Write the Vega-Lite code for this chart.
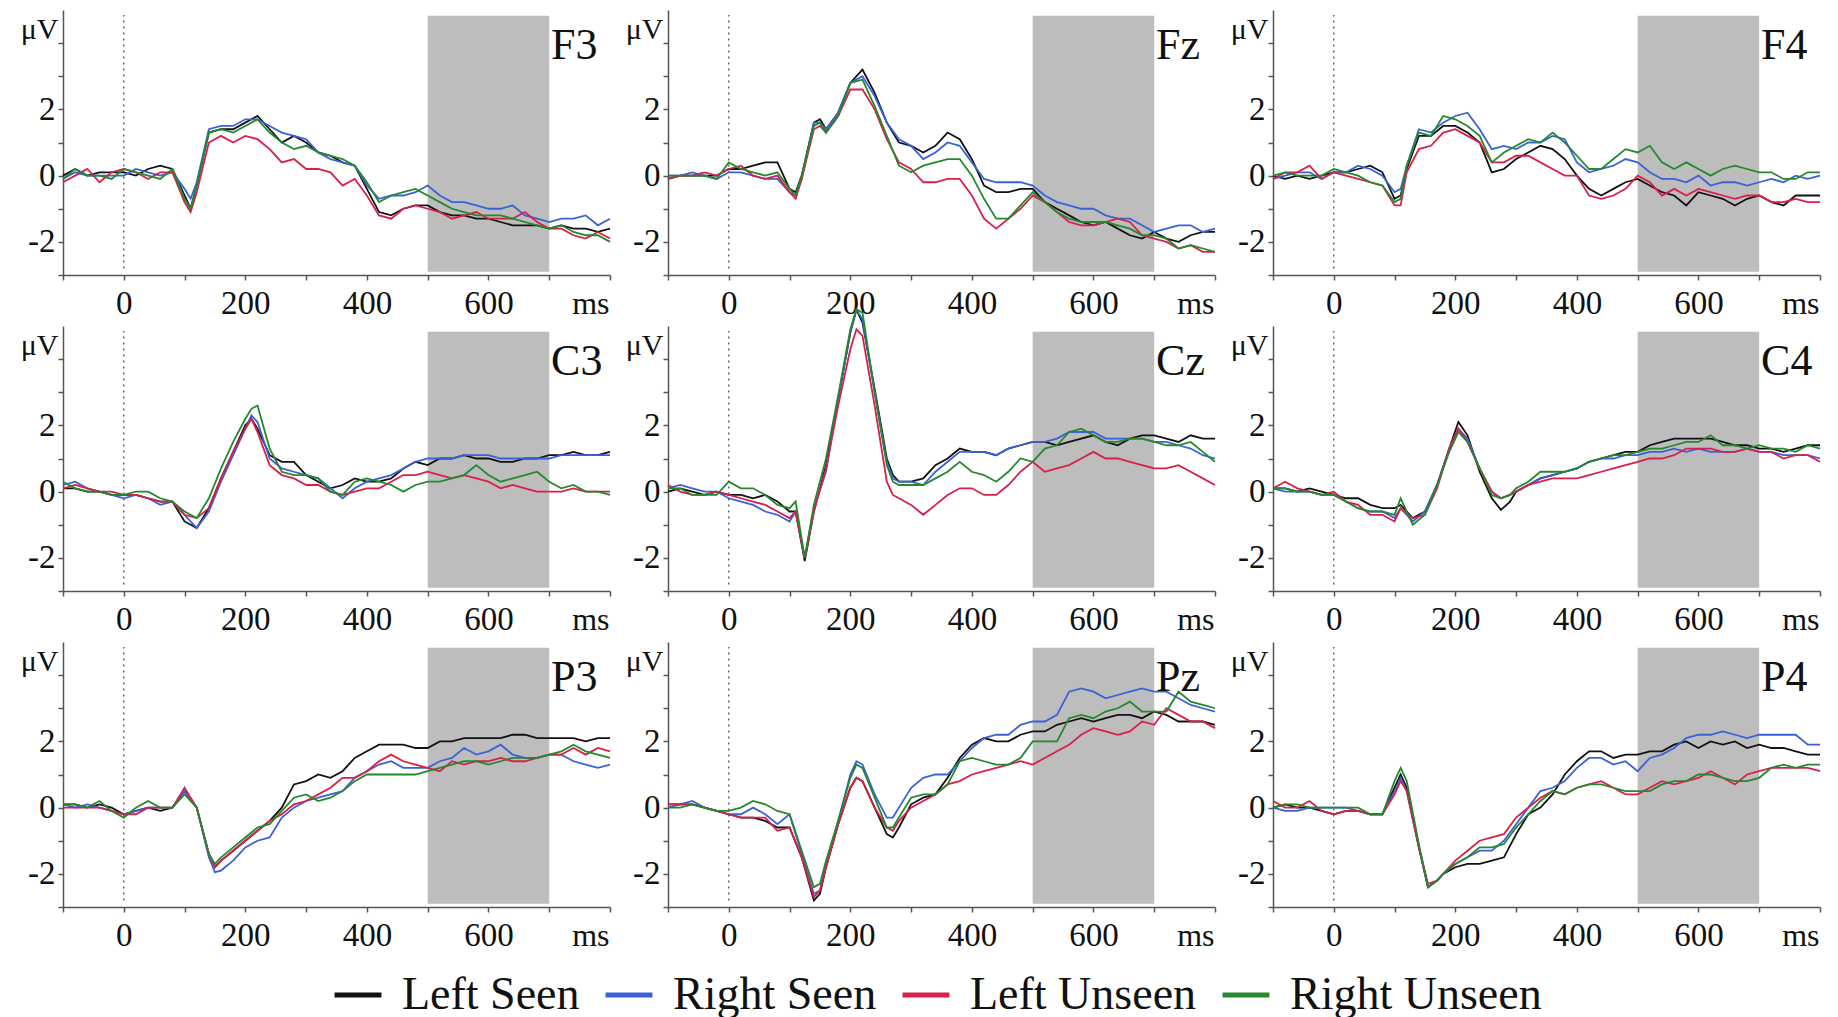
{
"$schema": "https://vega.github.io/schema/vega-lite/v6.json",
"autosize": {"type": "pad"},
"padding": {"left": 20, "top": 10, "right": 5, "bottom": 0},
"background": "white",
"config": {"view": {"stroke": null}, "font": "Liberation Serif", "header": {"labels": false, "title": null, "labelFontSize": 0, "labelPadding": 0, "titlePadding": 0}},
"data": {"values": [
{"c":"F3","t":-100,"LS":0,"RS":-0.1,"LU":-0.2,"RU":-0.1},
{"c":"F3","t":-80,"LS":0.2,"RS":0.1,"LU":0,"RU":0.2},
{"c":"F3","t":-60,"LS":0,"RS":0,"LU":0.2,"RU":0},
{"c":"F3","t":-40,"LS":0.1,"RS":0,"LU":-0.2,"RU":0},
{"c":"F3","t":-20,"LS":0.1,"RS":0,"LU":0.1,"RU":-0.1},
{"c":"F3","t":0,"LS":0.1,"RS":0,"LU":0.2,"RU":0.2},
{"c":"F3","t":20,"LS":0,"RS":0.2,"LU":0.1,"RU":0.1},
{"c":"F3","t":40,"LS":0.2,"RS":0.1,"LU":-0.1,"RU":0},
{"c":"F3","t":60,"LS":0.3,"RS":0,"LU":0.1,"RU":-0.1},
{"c":"F3","t":80,"LS":0.2,"RS":0.1,"LU":0.1,"RU":0.2},
{"c":"F3","t":100,"LS":-0.6,"RS":-0.4,"LU":-0.8,"RU":-0.7},
{"c":"F3","t":110,"LS":-1,"RS":-0.7,"LU":-1.1,"RU":-1},
{"c":"F3","t":120,"LS":-0.3,"RS":-0.2,"LU":-0.5,"RU":-0.3},
{"c":"F3","t":140,"LS":1.3,"RS":1.4,"LU":1,"RU":1.3},
{"c":"F3","t":160,"LS":1.4,"RS":1.5,"LU":1.2,"RU":1.4},
{"c":"F3","t":180,"LS":1.4,"RS":1.5,"LU":1,"RU":1.3},
{"c":"F3","t":200,"LS":1.6,"RS":1.7,"LU":1.2,"RU":1.5},
{"c":"F3","t":220,"LS":1.8,"RS":1.7,"LU":1.1,"RU":1.7},
{"c":"F3","t":240,"LS":1.4,"RS":1.5,"LU":0.8,"RU":1.3},
{"c":"F3","t":260,"LS":1,"RS":1.3,"LU":0.4,"RU":1},
{"c":"F3","t":280,"LS":1.2,"RS":1.2,"LU":0.5,"RU":0.8},
{"c":"F3","t":300,"LS":1,"RS":1.1,"LU":0.2,"RU":0.9},
{"c":"F3","t":320,"LS":0.7,"RS":0.7,"LU":0.2,"RU":0.7},
{"c":"F3","t":340,"LS":0.6,"RS":0.5,"LU":0.1,"RU":0.6},
{"c":"F3","t":360,"LS":0.4,"RS":0.4,"LU":-0.3,"RU":0.5},
{"c":"F3","t":380,"LS":0.3,"RS":0.3,"LU":-0.1,"RU":0.3},
{"c":"F3","t":400,"LS":-0.4,"RS":-0.3,"LU":-0.6,"RU":-0.2},
{"c":"F3","t":420,"LS":-1.1,"RS":-0.7,"LU":-1.2,"RU":-0.8},
{"c":"F3","t":440,"LS":-1.2,"RS":-0.6,"LU":-1.3,"RU":-0.6},
{"c":"F3","t":460,"LS":-1,"RS":-0.6,"LU":-1,"RU":-0.5},
{"c":"F3","t":480,"LS":-0.9,"RS":-0.5,"LU":-0.9,"RU":-0.4},
{"c":"F3","t":500,"LS":-0.9,"RS":-0.3,"LU":-1,"RU":-0.6},
{"c":"F3","t":520,"LS":-1.1,"RS":-0.6,"LU":-1.1,"RU":-0.8},
{"c":"F3","t":540,"LS":-1.2,"RS":-0.8,"LU":-1.3,"RU":-1},
{"c":"F3","t":560,"LS":-1.2,"RS":-0.8,"LU":-1.2,"RU":-1.1},
{"c":"F3","t":580,"LS":-1.3,"RS":-0.9,"LU":-1.1,"RU":-1.2},
{"c":"F3","t":600,"LS":-1.3,"RS":-1,"LU":-1.3,"RU":-1.2},
{"c":"F3","t":620,"LS":-1.4,"RS":-1,"LU":-1.3,"RU":-1.2},
{"c":"F3","t":640,"LS":-1.5,"RS":-0.9,"LU":-1.3,"RU":-1.3},
{"c":"F3","t":660,"LS":-1.5,"RS":-1.2,"LU":-1.1,"RU":-1.4},
{"c":"F3","t":680,"LS":-1.5,"RS":-1.3,"LU":-1.4,"RU":-1.5},
{"c":"F3","t":700,"LS":-1.6,"RS":-1.4,"LU":-1.6,"RU":-1.6},
{"c":"F3","t":720,"LS":-1.5,"RS":-1.3,"LU":-1.6,"RU":-1.5},
{"c":"F3","t":740,"LS":-1.6,"RS":-1.3,"LU":-1.8,"RU":-1.7},
{"c":"F3","t":760,"LS":-1.6,"RS":-1.2,"LU":-1.9,"RU":-1.8},
{"c":"F3","t":780,"LS":-1.7,"RS":-1.5,"LU":-1.7,"RU":-1.8},
{"c":"F3","t":800,"LS":-1.6,"RS":-1.3,"LU":-1.9,"RU":-2},
{"c":"Fz","t":-100,"LS":-0.1,"RS":0,"LU":-0.1,"RU":0},
{"c":"Fz","t":-80,"LS":0,"RS":0,"LU":0,"RU":0},
{"c":"Fz","t":-60,"LS":0,"RS":0.1,"LU":0,"RU":0},
{"c":"Fz","t":-40,"LS":0,"RS":0,"LU":0.1,"RU":0},
{"c":"Fz","t":-20,"LS":0,"RS":-0.1,"LU":0,"RU":-0.1},
{"c":"Fz","t":0,"LS":0.2,"RS":0.1,"LU":0.2,"RU":0.4},
{"c":"Fz","t":20,"LS":0.2,"RS":0.1,"LU":0.3,"RU":0.2},
{"c":"Fz","t":40,"LS":0.3,"RS":0,"LU":0,"RU":0.1},
{"c":"Fz","t":60,"LS":0.4,"RS":-0.1,"LU":-0.1,"RU":0},
{"c":"Fz","t":80,"LS":0.4,"RS":-0.1,"LU":0,"RU":0.1},
{"c":"Fz","t":100,"LS":-0.4,"RS":-0.5,"LU":-0.5,"RU":-0.4},
{"c":"Fz","t":110,"LS":-0.5,"RS":-0.6,"LU":-0.7,"RU":-0.6},
{"c":"Fz","t":120,"LS":0,"RS":-0.1,"LU":-0.1,"RU":0},
{"c":"Fz","t":140,"LS":1.6,"RS":1.6,"LU":1.4,"RU":1.5},
{"c":"Fz","t":150,"LS":1.7,"RS":1.6,"LU":1.5,"RU":1.6},
{"c":"Fz","t":160,"LS":1.4,"RS":1.4,"LU":1.3,"RU":1.3},
{"c":"Fz","t":180,"LS":1.9,"RS":1.9,"LU":1.8,"RU":1.8},
{"c":"Fz","t":200,"LS":2.8,"RS":2.8,"LU":2.6,"RU":2.8},
{"c":"Fz","t":220,"LS":3.2,"RS":3,"LU":2.6,"RU":2.9},
{"c":"Fz","t":240,"LS":2.5,"RS":2.4,"LU":2,"RU":2.1},
{"c":"Fz","t":260,"LS":1.6,"RS":1.6,"LU":1.1,"RU":1.2},
{"c":"Fz","t":280,"LS":1,"RS":1.1,"LU":0.4,"RU":0.3},
{"c":"Fz","t":300,"LS":0.9,"RS":0.9,"LU":0.2,"RU":0.1},
{"c":"Fz","t":320,"LS":0.7,"RS":0.5,"LU":-0.2,"RU":0.3},
{"c":"Fz","t":340,"LS":0.9,"RS":0.7,"LU":-0.2,"RU":0.4},
{"c":"Fz","t":360,"LS":1.3,"RS":1,"LU":-0.1,"RU":0.5},
{"c":"Fz","t":380,"LS":1.1,"RS":0.9,"LU":-0.1,"RU":0.5},
{"c":"Fz","t":400,"LS":0.5,"RS":0.4,"LU":-0.6,"RU":0},
{"c":"Fz","t":420,"LS":-0.3,"RS":-0.1,"LU":-1.3,"RU":-0.7},
{"c":"Fz","t":440,"LS":-0.5,"RS":-0.2,"LU":-1.6,"RU":-1.3},
{"c":"Fz","t":460,"LS":-0.5,"RS":-0.2,"LU":-1.3,"RU":-1.3},
{"c":"Fz","t":480,"LS":-0.4,"RS":-0.2,"LU":-1,"RU":-0.9},
{"c":"Fz","t":500,"LS":-0.4,"RS":-0.3,"LU":-0.6,"RU":-0.5},
{"c":"Fz","t":520,"LS":-0.8,"RS":-0.6,"LU":-0.8,"RU":-0.8},
{"c":"Fz","t":540,"LS":-1,"RS":-0.8,"LU":-1.1,"RU":-1.1},
{"c":"Fz","t":560,"LS":-1.2,"RS":-0.9,"LU":-1.4,"RU":-1.3},
{"c":"Fz","t":580,"LS":-1.4,"RS":-1,"LU":-1.5,"RU":-1.4},
{"c":"Fz","t":600,"LS":-1.5,"RS":-1,"LU":-1.5,"RU":-1.4},
{"c":"Fz","t":620,"LS":-1.4,"RS":-1.2,"LU":-1.4,"RU":-1.4},
{"c":"Fz","t":640,"LS":-1.6,"RS":-1.3,"LU":-1.3,"RU":-1.5},
{"c":"Fz","t":660,"LS":-1.8,"RS":-1.3,"LU":-1.4,"RU":-1.6},
{"c":"Fz","t":680,"LS":-1.9,"RS":-1.5,"LU":-1.8,"RU":-1.8},
{"c":"Fz","t":700,"LS":-1.7,"RS":-1.7,"LU":-1.9,"RU":-1.8},
{"c":"Fz","t":720,"LS":-1.9,"RS":-1.6,"LU":-2,"RU":-1.9},
{"c":"Fz","t":740,"LS":-2,"RS":-1.5,"LU":-2.2,"RU":-2.2},
{"c":"Fz","t":760,"LS":-1.8,"RS":-1.5,"LU":-2.1,"RU":-2.1},
{"c":"Fz","t":780,"LS":-1.7,"RS":-1.7,"LU":-2.3,"RU":-2.2},
{"c":"Fz","t":800,"LS":-1.7,"RS":-1.6,"LU":-2.3,"RU":-2.3},
{"c":"F4","t":-100,"LS":0,"RS":-0.1,"LU":-0.1,"RU":0},
{"c":"F4","t":-80,"LS":-0.1,"RS":0,"LU":0.1,"RU":0.1},
{"c":"F4","t":-60,"LS":0,"RS":0.1,"LU":0.1,"RU":0},
{"c":"F4","t":-40,"LS":-0.1,"RS":0.1,"LU":0.3,"RU":0},
{"c":"F4","t":-20,"LS":0,"RS":-0.1,"LU":-0.1,"RU":0},
{"c":"F4","t":0,"LS":0.1,"RS":0.1,"LU":0.1,"RU":0.2},
{"c":"F4","t":20,"LS":0.1,"RS":0.1,"LU":0,"RU":0.1},
{"c":"F4","t":40,"LS":0.2,"RS":0.3,"LU":-0.1,"RU":0},
{"c":"F4","t":60,"LS":0.3,"RS":0.2,"LU":-0.2,"RU":-0.2},
{"c":"F4","t":80,"LS":0.1,"RS":0,"LU":-0.3,"RU":-0.3},
{"c":"F4","t":100,"LS":-0.7,"RS":-0.5,"LU":-0.9,"RU":-0.8},
{"c":"F4","t":110,"LS":-0.6,"RS":-0.4,"LU":-0.9,"RU":-0.7},
{"c":"F4","t":120,"LS":0.2,"RS":0.3,"LU":0.1,"RU":0.3},
{"c":"F4","t":140,"LS":1.2,"RS":1.4,"LU":0.8,"RU":1.3},
{"c":"F4","t":160,"LS":1.2,"RS":1.3,"LU":0.9,"RU":1.2},
{"c":"F4","t":180,"LS":1.5,"RS":1.6,"LU":1.3,"RU":1.8},
{"c":"F4","t":200,"LS":1.5,"RS":1.8,"LU":1.4,"RU":1.7},
{"c":"F4","t":220,"LS":1.3,"RS":1.9,"LU":1.2,"RU":1.5},
{"c":"F4","t":240,"LS":1,"RS":1.4,"LU":1,"RU":1.2},
{"c":"F4","t":260,"LS":0.1,"RS":0.8,"LU":0.4,"RU":0.4},
{"c":"F4","t":280,"LS":0.2,"RS":0.9,"LU":0.4,"RU":0.7},
{"c":"F4","t":300,"LS":0.5,"RS":0.8,"LU":0.6,"RU":0.9},
{"c":"F4","t":320,"LS":0.7,"RS":1,"LU":0.6,"RU":1.1},
{"c":"F4","t":340,"LS":0.9,"RS":1,"LU":0.4,"RU":1},
{"c":"F4","t":360,"LS":0.8,"RS":1.2,"LU":0.2,"RU":1.3},
{"c":"F4","t":380,"LS":0.5,"RS":1.1,"LU":0,"RU":1},
{"c":"F4","t":400,"LS":0,"RS":0.4,"LU":0,"RU":0.6},
{"c":"F4","t":420,"LS":-0.4,"RS":0.1,"LU":-0.6,"RU":0.2},
{"c":"F4","t":440,"LS":-0.6,"RS":0.2,"LU":-0.7,"RU":0.2},
{"c":"F4","t":460,"LS":-0.4,"RS":0.3,"LU":-0.6,"RU":0.5},
{"c":"F4","t":480,"LS":-0.2,"RS":0.5,"LU":-0.4,"RU":0.8},
{"c":"F4","t":500,"LS":-0.1,"RS":0.4,"LU":0,"RU":0.7},
{"c":"F4","t":520,"LS":-0.3,"RS":0.1,"LU":-0.2,"RU":0.9},
{"c":"F4","t":540,"LS":-0.5,"RS":-0.1,"LU":-0.6,"RU":0.4},
{"c":"F4","t":560,"LS":-0.6,"RS":-0.1,"LU":-0.4,"RU":0.2},
{"c":"F4","t":580,"LS":-0.9,"RS":-0.2,"LU":-0.6,"RU":0.4},
{"c":"F4","t":600,"LS":-0.5,"RS":0,"LU":-0.4,"RU":0.2},
{"c":"F4","t":620,"LS":-0.6,"RS":-0.3,"LU":-0.5,"RU":0},
{"c":"F4","t":640,"LS":-0.7,"RS":-0.2,"LU":-0.6,"RU":0.2},
{"c":"F4","t":660,"LS":-0.9,"RS":-0.2,"LU":-0.7,"RU":0.3},
{"c":"F4","t":680,"LS":-0.7,"RS":-0.3,"LU":-0.6,"RU":0.2},
{"c":"F4","t":700,"LS":-0.6,"RS":-0.2,"LU":-0.6,"RU":0.1},
{"c":"F4","t":720,"LS":-0.8,"RS":-0.1,"LU":-0.8,"RU":0.1},
{"c":"F4","t":740,"LS":-0.9,"RS":-0.2,"LU":-0.8,"RU":-0.1},
{"c":"F4","t":760,"LS":-0.6,"RS":0,"LU":-0.7,"RU":-0.1},
{"c":"F4","t":780,"LS":-0.6,"RS":-0.1,"LU":-0.8,"RU":0.1},
{"c":"F4","t":800,"LS":-0.6,"RS":0,"LU":-0.8,"RU":0.1},
{"c":"C3","t":-100,"LS":0.1,"RS":0.2,"LU":0.1,"RU":0.3},
{"c":"C3","t":-80,"LS":0.1,"RS":0.3,"LU":0.2,"RU":0.1},
{"c":"C3","t":-60,"LS":0,"RS":0.1,"LU":0.1,"RU":0},
{"c":"C3","t":-40,"LS":0,"RS":0,"LU":0,"RU":0},
{"c":"C3","t":-20,"LS":-0.1,"RS":-0.1,"LU":0,"RU":-0.1},
{"c":"C3","t":0,"LS":-0.1,"RS":-0.2,"LU":-0.1,"RU":-0.1},
{"c":"C3","t":20,"LS":-0.1,"RS":-0.1,"LU":-0.1,"RU":0},
{"c":"C3","t":40,"LS":-0.2,"RS":-0.2,"LU":-0.2,"RU":0},
{"c":"C3","t":60,"LS":-0.3,"RS":-0.4,"LU":-0.3,"RU":-0.2},
{"c":"C3","t":80,"LS":-0.3,"RS":-0.3,"LU":-0.3,"RU":-0.3},
{"c":"C3","t":100,"LS":-0.9,"RS":-0.7,"LU":-0.7,"RU":-0.6},
{"c":"C3","t":120,"LS":-1.1,"RS":-1.1,"LU":-0.8,"RU":-0.8},
{"c":"C3","t":140,"LS":-0.5,"RS":-0.6,"LU":-0.5,"RU":-0.2},
{"c":"C3","t":160,"LS":0.4,"RS":0.3,"LU":0.4,"RU":0.7},
{"c":"C3","t":180,"LS":1.2,"RS":1.1,"LU":1.2,"RU":1.5},
{"c":"C3","t":200,"LS":2,"RS":1.9,"LU":1.9,"RU":2.2},
{"c":"C3","t":210,"LS":2.2,"RS":2.3,"LU":2.2,"RU":2.5},
{"c":"C3","t":220,"LS":1.9,"RS":2.1,"LU":1.8,"RU":2.6},
{"c":"C3","t":240,"LS":1.1,"RS":1,"LU":0.8,"RU":1.3},
{"c":"C3","t":260,"LS":0.9,"RS":0.7,"LU":0.5,"RU":0.6},
{"c":"C3","t":280,"LS":0.9,"RS":0.6,"LU":0.4,"RU":0.5},
{"c":"C3","t":300,"LS":0.5,"RS":0.5,"LU":0.2,"RU":0.5},
{"c":"C3","t":320,"LS":0.3,"RS":0.4,"LU":0.2,"RU":0.4},
{"c":"C3","t":340,"LS":0.1,"RS":0.1,"LU":0,"RU":0},
{"c":"C3","t":360,"LS":0.2,"RS":-0.2,"LU":-0.1,"RU":-0.1},
{"c":"C3","t":380,"LS":0.4,"RS":0.1,"LU":0,"RU":0.3},
{"c":"C3","t":400,"LS":0.3,"RS":0.3,"LU":0.1,"RU":0.4},
{"c":"C3","t":420,"LS":0.3,"RS":0.4,"LU":0.1,"RU":0.3},
{"c":"C3","t":440,"LS":0.4,"RS":0.5,"LU":0.3,"RU":0.2},
{"c":"C3","t":460,"LS":0.7,"RS":0.7,"LU":0.5,"RU":0},
{"c":"C3","t":480,"LS":0.9,"RS":0.9,"LU":0.5,"RU":0.2},
{"c":"C3","t":500,"LS":0.8,"RS":1,"LU":0.6,"RU":0.3},
{"c":"C3","t":520,"LS":1,"RS":1,"LU":0.5,"RU":0.3},
{"c":"C3","t":540,"LS":1,"RS":1,"LU":0.4,"RU":0.4},
{"c":"C3","t":560,"LS":1.1,"RS":1.1,"LU":0.5,"RU":0.5},
{"c":"C3","t":580,"LS":1,"RS":1.1,"LU":0.4,"RU":0.8},
{"c":"C3","t":600,"LS":1,"RS":1.1,"LU":0.3,"RU":0.5},
{"c":"C3","t":620,"LS":0.9,"RS":1,"LU":0.1,"RU":0.3},
{"c":"C3","t":640,"LS":0.9,"RS":1,"LU":0.2,"RU":0.4},
{"c":"C3","t":660,"LS":1,"RS":1,"LU":0.1,"RU":0.5},
{"c":"C3","t":680,"LS":1,"RS":1,"LU":0,"RU":0.6},
{"c":"C3","t":700,"LS":1.1,"RS":1,"LU":0,"RU":0.3},
{"c":"C3","t":720,"LS":1.1,"RS":1.1,"LU":0,"RU":0.1},
{"c":"C3","t":740,"LS":1.2,"RS":1.1,"LU":0.1,"RU":0.2},
{"c":"C3","t":760,"LS":1.1,"RS":1.1,"LU":0,"RU":0},
{"c":"C3","t":780,"LS":1.1,"RS":1.1,"LU":0,"RU":0},
{"c":"C3","t":800,"LS":1.2,"RS":1.1,"LU":0,"RU":-0.1},
{"c":"Cz","t":-100,"LS":0,"RS":0.1,"LU":0.2,"RU":0.1},
{"c":"Cz","t":-80,"LS":0.1,"RS":0.2,"LU":0,"RU":0.1},
{"c":"Cz","t":-60,"LS":0,"RS":0.1,"LU":-0.1,"RU":-0.1},
{"c":"Cz","t":-40,"LS":-0.1,"RS":0,"LU":-0.1,"RU":-0.1},
{"c":"Cz","t":-20,"LS":0,"RS":0,"LU":0,"RU":-0.1},
{"c":"Cz","t":0,"LS":-0.1,"RS":-0.2,"LU":-0.1,"RU":0.3},
{"c":"Cz","t":20,"LS":-0.1,"RS":-0.3,"LU":-0.2,"RU":0.1},
{"c":"Cz","t":40,"LS":-0.2,"RS":-0.4,"LU":-0.3,"RU":0.1},
{"c":"Cz","t":60,"LS":-0.1,"RS":-0.6,"LU":-0.4,"RU":-0.1},
{"c":"Cz","t":80,"LS":-0.3,"RS":-0.7,"LU":-0.6,"RU":-0.4},
{"c":"Cz","t":100,"LS":-0.6,"RS":-0.9,"LU":-0.8,"RU":-0.5},
{"c":"Cz","t":110,"LS":-0.6,"RS":-0.6,"LU":-0.6,"RU":-0.3},
{"c":"Cz","t":125,"LS":-2.1,"RS":-2,"LU":-2,"RU":-2},
{"c":"Cz","t":140,"LS":-0.6,"RS":-0.5,"LU":-0.6,"RU":-0.4},
{"c":"Cz","t":160,"LS":0.8,"RS":0.6,"LU":0.7,"RU":1},
{"c":"Cz","t":180,"LS":2.8,"RS":2.8,"LU":2.6,"RU":2.9},
{"c":"Cz","t":200,"LS":4.8,"RS":4.8,"LU":4.3,"RU":4.9},
{"c":"Cz","t":210,"LS":5.5,"RS":5.5,"LU":4.9,"RU":5.5},
{"c":"Cz","t":220,"LS":5.1,"RS":5.2,"LU":4.7,"RU":5.4},
{"c":"Cz","t":240,"LS":3.1,"RS":3,"LU":2.6,"RU":3},
{"c":"Cz","t":260,"LS":1,"RS":0.9,"LU":0.3,"RU":0.8},
{"c":"Cz","t":270,"LS":0.5,"RS":0.4,"LU":-0.1,"RU":0.3},
{"c":"Cz","t":280,"LS":0.3,"RS":0.3,"LU":-0.2,"RU":0.2},
{"c":"Cz","t":300,"LS":0.3,"RS":0.3,"LU":-0.4,"RU":0.2},
{"c":"Cz","t":320,"LS":0.4,"RS":0.2,"LU":-0.7,"RU":0.2},
{"c":"Cz","t":340,"LS":0.8,"RS":0.6,"LU":-0.4,"RU":0.4},
{"c":"Cz","t":360,"LS":1,"RS":0.9,"LU":-0.1,"RU":0.6},
{"c":"Cz","t":380,"LS":1.3,"RS":1.2,"LU":0.1,"RU":0.9},
{"c":"Cz","t":400,"LS":1.2,"RS":1.2,"LU":0.1,"RU":0.6},
{"c":"Cz","t":420,"LS":1.2,"RS":1.2,"LU":-0.1,"RU":0.5},
{"c":"Cz","t":440,"LS":1.1,"RS":1.1,"LU":-0.1,"RU":0.3},
{"c":"Cz","t":460,"LS":1.3,"RS":1.3,"LU":0.2,"RU":0.6},
{"c":"Cz","t":480,"LS":1.4,"RS":1.4,"LU":0.6,"RU":1},
{"c":"Cz","t":500,"LS":1.5,"RS":1.5,"LU":0.9,"RU":0.9},
{"c":"Cz","t":520,"LS":1.5,"RS":1.5,"LU":0.6,"RU":1.3},
{"c":"Cz","t":540,"LS":1.4,"RS":1.6,"LU":0.7,"RU":1.4},
{"c":"Cz","t":560,"LS":1.5,"RS":1.8,"LU":0.8,"RU":1.8},
{"c":"Cz","t":580,"LS":1.6,"RS":1.8,"LU":1,"RU":1.9},
{"c":"Cz","t":600,"LS":1.7,"RS":1.8,"LU":1.2,"RU":1.7},
{"c":"Cz","t":620,"LS":1.5,"RS":1.6,"LU":1,"RU":1.5},
{"c":"Cz","t":640,"LS":1.4,"RS":1.6,"LU":1,"RU":1.5},
{"c":"Cz","t":660,"LS":1.6,"RS":1.6,"LU":0.9,"RU":1.6},
{"c":"Cz","t":680,"LS":1.7,"RS":1.6,"LU":0.8,"RU":1.6},
{"c":"Cz","t":700,"LS":1.7,"RS":1.5,"LU":0.7,"RU":1.5},
{"c":"Cz","t":720,"LS":1.6,"RS":1.5,"LU":0.7,"RU":1.4},
{"c":"Cz","t":740,"LS":1.5,"RS":1.4,"LU":0.8,"RU":1.4},
{"c":"Cz","t":760,"LS":1.7,"RS":1.3,"LU":0.6,"RU":1.5},
{"c":"Cz","t":780,"LS":1.6,"RS":1.1,"LU":0.4,"RU":1.2},
{"c":"Cz","t":800,"LS":1.6,"RS":1,"LU":0.2,"RU":0.9},
{"c":"C4","t":-100,"LS":0.1,"RS":0.1,"LU":0.1,"RU":0.1},
{"c":"C4","t":-80,"LS":0.1,"RS":0,"LU":0.3,"RU":0.1},
{"c":"C4","t":-60,"LS":0,"RS":0,"LU":0.1,"RU":0},
{"c":"C4","t":-40,"LS":0.1,"RS":0,"LU":0,"RU":0},
{"c":"C4","t":-20,"LS":0,"RS":-0.1,"LU":-0.1,"RU":-0.1},
{"c":"C4","t":0,"LS":-0.1,"RS":-0.1,"LU":0,"RU":-0.1},
{"c":"C4","t":20,"LS":-0.2,"RS":-0.3,"LU":-0.3,"RU":-0.3},
{"c":"C4","t":40,"LS":-0.2,"RS":-0.5,"LU":-0.4,"RU":-0.5},
{"c":"C4","t":60,"LS":-0.4,"RS":-0.6,"LU":-0.7,"RU":-0.6},
{"c":"C4","t":80,"LS":-0.5,"RS":-0.6,"LU":-0.7,"RU":-0.6},
{"c":"C4","t":100,"LS":-0.5,"RS":-0.8,"LU":-0.9,"RU":-0.7},
{"c":"C4","t":110,"LS":-0.4,"RS":-0.5,"LU":-0.5,"RU":-0.2},
{"c":"C4","t":130,"LS":-0.8,"RS":-0.9,"LU":-0.8,"RU":-1},
{"c":"C4","t":150,"LS":-0.6,"RS":-0.6,"LU":-0.7,"RU":-0.7},
{"c":"C4","t":170,"LS":0.2,"RS":0.2,"LU":0.1,"RU":0.2},
{"c":"C4","t":190,"LS":1.3,"RS":1.3,"LU":1.3,"RU":1.2},
{"c":"C4","t":205,"LS":2.1,"RS":1.9,"LU":1.9,"RU":1.8},
{"c":"C4","t":220,"LS":1.7,"RS":1.6,"LU":1.5,"RU":1.5},
{"c":"C4","t":240,"LS":0.6,"RS":0.7,"LU":0.7,"RU":0.7},
{"c":"C4","t":260,"LS":-0.2,"RS":0,"LU":0,"RU":-0.1},
{"c":"C4","t":275,"LS":-0.55,"RS":-0.2,"LU":-0.2,"RU":-0.2},
{"c":"C4","t":290,"LS":-0.3,"RS":-0.1,"LU":-0.1,"RU":-0.1},
{"c":"C4","t":300,"LS":0,"RS":0,"LU":0,"RU":0.1},
{"c":"C4","t":320,"LS":0.2,"RS":0.2,"LU":0.2,"RU":0.3},
{"c":"C4","t":340,"LS":0.4,"RS":0.4,"LU":0.3,"RU":0.6},
{"c":"C4","t":360,"LS":0.5,"RS":0.5,"LU":0.4,"RU":0.6},
{"c":"C4","t":380,"LS":0.6,"RS":0.6,"LU":0.4,"RU":0.6},
{"c":"C4","t":400,"LS":0.7,"RS":0.7,"LU":0.4,"RU":0.7},
{"c":"C4","t":420,"LS":0.9,"RS":0.9,"LU":0.5,"RU":0.9},
{"c":"C4","t":440,"LS":1,"RS":1,"LU":0.6,"RU":1},
{"c":"C4","t":460,"LS":1.1,"RS":1,"LU":0.7,"RU":1.1},
{"c":"C4","t":480,"LS":1.2,"RS":1.1,"LU":0.8,"RU":1.1},
{"c":"C4","t":500,"LS":1.2,"RS":1.1,"LU":0.9,"RU":1.2},
{"c":"C4","t":520,"LS":1.4,"RS":1.2,"LU":1,"RU":1.3},
{"c":"C4","t":540,"LS":1.5,"RS":1.2,"LU":1,"RU":1.3},
{"c":"C4","t":560,"LS":1.6,"RS":1.3,"LU":1.1,"RU":1.4},
{"c":"C4","t":580,"LS":1.6,"RS":1.2,"LU":1.3,"RU":1.5},
{"c":"C4","t":600,"LS":1.6,"RS":1.3,"LU":1.3,"RU":1.5},
{"c":"C4","t":620,"LS":1.6,"RS":1.2,"LU":1.3,"RU":1.7},
{"c":"C4","t":640,"LS":1.5,"RS":1.2,"LU":1.2,"RU":1.4},
{"c":"C4","t":660,"LS":1.4,"RS":1.2,"LU":1.2,"RU":1.4},
{"c":"C4","t":680,"LS":1.4,"RS":1.3,"LU":1.3,"RU":1.3},
{"c":"C4","t":700,"LS":1.3,"RS":1.2,"LU":1.2,"RU":1.4},
{"c":"C4","t":720,"LS":1.3,"RS":1.2,"LU":1.2,"RU":1.3},
{"c":"C4","t":740,"LS":1.2,"RS":1.1,"LU":1,"RU":1.3},
{"c":"C4","t":760,"LS":1.3,"RS":1.1,"LU":1.1,"RU":1.2},
{"c":"C4","t":780,"LS":1.4,"RS":1.1,"LU":1.1,"RU":1.4},
{"c":"C4","t":800,"LS":1.4,"RS":1,"LU":0.9,"RU":1.3},
{"c":"P3","t":-100,"LS":0.1,"RS":0.1,"LU":0,"RU":0.1},
{"c":"P3","t":-80,"LS":0.1,"RS":0,"LU":0,"RU":0.1},
{"c":"P3","t":-60,"LS":0,"RS":0.1,"LU":0,"RU":0},
{"c":"P3","t":-40,"LS":0.1,"RS":0,"LU":0,"RU":0.2},
{"c":"P3","t":-20,"LS":0,"RS":-0.1,"LU":-0.1,"RU":-0.1},
{"c":"P3","t":0,"LS":-0.2,"RS":-0.2,"LU":-0.2,"RU":-0.3},
{"c":"P3","t":20,"LS":-0.1,"RS":-0.1,"LU":-0.2,"RU":0},
{"c":"P3","t":40,"LS":0,"RS":0,"LU":0,"RU":0.2},
{"c":"P3","t":60,"LS":-0.1,"RS":0,"LU":0,"RU":0},
{"c":"P3","t":80,"LS":0,"RS":0,"LU":0,"RU":0},
{"c":"P3","t":100,"LS":0.5,"RS":0.5,"LU":0.6,"RU":0.4},
{"c":"P3","t":120,"LS":0,"RS":0,"LU":0,"RU":0},
{"c":"P3","t":140,"LS":-1.4,"RS":-1.5,"LU":-1.4,"RU":-1.4},
{"c":"P3","t":150,"LS":-1.8,"RS":-1.95,"LU":-1.8,"RU":-1.7},
{"c":"P3","t":160,"LS":-1.6,"RS":-1.9,"LU":-1.6,"RU":-1.5},
{"c":"P3","t":180,"LS":-1.3,"RS":-1.6,"LU":-1.3,"RU":-1.2},
{"c":"P3","t":200,"LS":-1,"RS":-1.2,"LU":-1,"RU":-0.9},
{"c":"P3","t":220,"LS":-0.7,"RS":-1,"LU":-0.7,"RU":-0.6},
{"c":"P3","t":240,"LS":-0.4,"RS":-0.9,"LU":-0.4,"RU":-0.5},
{"c":"P3","t":260,"LS":0,"RS":-0.3,"LU":-0.2,"RU":-0.1},
{"c":"P3","t":280,"LS":0.7,"RS":0,"LU":0.1,"RU":0.3},
{"c":"P3","t":300,"LS":0.8,"RS":0.2,"LU":0.2,"RU":0.4},
{"c":"P3","t":320,"LS":1,"RS":0.3,"LU":0.4,"RU":0.2},
{"c":"P3","t":340,"LS":0.9,"RS":0.4,"LU":0.6,"RU":0.3},
{"c":"P3","t":360,"LS":1.1,"RS":0.5,"LU":0.9,"RU":0.5},
{"c":"P3","t":380,"LS":1.5,"RS":0.9,"LU":0.9,"RU":0.8},
{"c":"P3","t":400,"LS":1.7,"RS":1.1,"LU":1.1,"RU":1},
{"c":"P3","t":420,"LS":1.9,"RS":1.3,"LU":1.4,"RU":1},
{"c":"P3","t":440,"LS":1.9,"RS":1.4,"LU":1.6,"RU":1},
{"c":"P3","t":460,"LS":1.9,"RS":1.2,"LU":1.4,"RU":1},
{"c":"P3","t":480,"LS":1.8,"RS":1.2,"LU":1.3,"RU":1},
{"c":"P3","t":500,"LS":1.8,"RS":1.2,"LU":1.2,"RU":1.1},
{"c":"P3","t":520,"LS":2,"RS":1.4,"LU":1.1,"RU":1.2},
{"c":"P3","t":540,"LS":2,"RS":1.5,"LU":1.4,"RU":1.3},
{"c":"P3","t":560,"LS":2.1,"RS":1.8,"LU":1.3,"RU":1.4},
{"c":"P3","t":580,"LS":2.1,"RS":1.6,"LU":1.4,"RU":1.4},
{"c":"P3","t":600,"LS":2.1,"RS":1.7,"LU":1.4,"RU":1.3},
{"c":"P3","t":620,"LS":2.1,"RS":1.9,"LU":1.5,"RU":1.4},
{"c":"P3","t":640,"LS":2.2,"RS":1.6,"LU":1.4,"RU":1.5},
{"c":"P3","t":660,"LS":2.2,"RS":1.5,"LU":1.4,"RU":1.5},
{"c":"P3","t":680,"LS":2.1,"RS":1.5,"LU":1.5,"RU":1.5},
{"c":"P3","t":700,"LS":2.1,"RS":1.6,"LU":1.6,"RU":1.6},
{"c":"P3","t":720,"LS":2.1,"RS":1.6,"LU":1.6,"RU":1.7},
{"c":"P3","t":740,"LS":2.1,"RS":1.4,"LU":1.8,"RU":1.9},
{"c":"P3","t":760,"LS":2,"RS":1.3,"LU":1.6,"RU":1.7},
{"c":"P3","t":780,"LS":2.1,"RS":1.2,"LU":1.8,"RU":1.6},
{"c":"P3","t":800,"LS":2.1,"RS":1.3,"LU":1.7,"RU":1.5},
{"c":"Pz","t":-100,"LS":0.1,"RS":0,"LU":0.1,"RU":0},
{"c":"Pz","t":-80,"LS":0.1,"RS":0.1,"LU":0.1,"RU":0},
{"c":"Pz","t":-60,"LS":0.1,"RS":0.2,"LU":0.1,"RU":0.1},
{"c":"Pz","t":-40,"LS":0,"RS":0,"LU":0,"RU":0},
{"c":"Pz","t":-20,"LS":-0.1,"RS":-0.1,"LU":-0.1,"RU":-0.1},
{"c":"Pz","t":0,"LS":-0.2,"RS":-0.2,"LU":-0.2,"RU":-0.1},
{"c":"Pz","t":20,"LS":-0.3,"RS":-0.2,"LU":-0.3,"RU":0},
{"c":"Pz","t":40,"LS":-0.3,"RS":0,"LU":-0.3,"RU":0.2},
{"c":"Pz","t":60,"LS":-0.4,"RS":-0.2,"LU":-0.3,"RU":0.1},
{"c":"Pz","t":80,"LS":-0.6,"RS":-0.5,"LU":-0.7,"RU":-0.1},
{"c":"Pz","t":100,"LS":-0.6,"RS":-0.2,"LU":-0.6,"RU":-0.2},
{"c":"Pz","t":120,"LS":-1.5,"RS":-1.4,"LU":-1.5,"RU":-1.3},
{"c":"Pz","t":140,"LS":-2.8,"RS":-2.6,"LU":-2.7,"RU":-2.4},
{"c":"Pz","t":150,"LS":-2.6,"RS":-2.5,"LU":-2.5,"RU":-2.3},
{"c":"Pz","t":160,"LS":-1.8,"RS":-1.7,"LU":-1.8,"RU":-1.6},
{"c":"Pz","t":180,"LS":-0.5,"RS":-0.4,"LU":-0.5,"RU":-0.4},
{"c":"Pz","t":200,"LS":0.6,"RS":1,"LU":0.6,"RU":0.9},
{"c":"Pz","t":210,"LS":0.9,"RS":1.4,"LU":0.9,"RU":1.3},
{"c":"Pz","t":220,"LS":0.8,"RS":1.3,"LU":0.8,"RU":1.2},
{"c":"Pz","t":240,"LS":0,"RS":0.4,"LU":0,"RU":0.3},
{"c":"Pz","t":260,"LS":-0.8,"RS":-0.3,"LU":-0.6,"RU":-0.6},
{"c":"Pz","t":270,"LS":-0.9,"RS":-0.3,"LU":-0.7,"RU":-0.6},
{"c":"Pz","t":280,"LS":-0.6,"RS":0,"LU":-0.4,"RU":-0.3},
{"c":"Pz","t":300,"LS":0.1,"RS":0.6,"LU":0,"RU":0.3},
{"c":"Pz","t":320,"LS":0.3,"RS":0.9,"LU":0.2,"RU":0.4},
{"c":"Pz","t":340,"LS":0.4,"RS":1,"LU":0.4,"RU":0.4},
{"c":"Pz","t":360,"LS":0.9,"RS":1,"LU":0.7,"RU":0.7},
{"c":"Pz","t":380,"LS":1.5,"RS":1.4,"LU":0.8,"RU":1.4},
{"c":"Pz","t":400,"LS":1.9,"RS":1.8,"LU":1,"RU":1.5},
{"c":"Pz","t":420,"LS":2.1,"RS":2.1,"LU":1.1,"RU":1.4},
{"c":"Pz","t":440,"LS":2,"RS":2.2,"LU":1.2,"RU":1.3},
{"c":"Pz","t":460,"LS":2,"RS":2.2,"LU":1.3,"RU":1.3},
{"c":"Pz","t":480,"LS":2.2,"RS":2.5,"LU":1.4,"RU":1.5},
{"c":"Pz","t":500,"LS":2.3,"RS":2.6,"LU":1.3,"RU":2},
{"c":"Pz","t":520,"LS":2.3,"RS":2.6,"LU":1.5,"RU":2},
{"c":"Pz","t":540,"LS":2.5,"RS":2.8,"LU":1.7,"RU":2},
{"c":"Pz","t":560,"LS":2.6,"RS":3.5,"LU":1.9,"RU":2.7},
{"c":"Pz","t":580,"LS":2.7,"RS":3.6,"LU":2.2,"RU":2.8},
{"c":"Pz","t":600,"LS":2.6,"RS":3.5,"LU":2.4,"RU":2.7},
{"c":"Pz","t":620,"LS":2.7,"RS":3.3,"LU":2.3,"RU":2.9},
{"c":"Pz","t":640,"LS":2.8,"RS":3.4,"LU":2.2,"RU":3},
{"c":"Pz","t":660,"LS":2.8,"RS":3.5,"LU":2.3,"RU":3.2},
{"c":"Pz","t":680,"LS":2.7,"RS":3.6,"LU":2.6,"RU":2.9},
{"c":"Pz","t":700,"LS":2.9,"RS":3.5,"LU":2.5,"RU":2.9},
{"c":"Pz","t":720,"LS":2.8,"RS":3.5,"LU":3,"RU":2.9},
{"c":"Pz","t":740,"LS":2.6,"RS":3.3,"LU":2.8,"RU":3.5},
{"c":"Pz","t":760,"LS":2.6,"RS":3.1,"LU":2.6,"RU":3.2},
{"c":"Pz","t":780,"LS":2.6,"RS":3,"LU":2.6,"RU":3.1},
{"c":"Pz","t":800,"LS":2.5,"RS":2.9,"LU":2.4,"RU":3},
{"c":"P4","t":-100,"LS":0,"RS":0,"LU":0.2,"RU":0},
{"c":"P4","t":-80,"LS":0.1,"RS":-0.1,"LU":0,"RU":0.1},
{"c":"P4","t":-60,"LS":0,"RS":-0.1,"LU":0,"RU":0.1},
{"c":"P4","t":-40,"LS":0,"RS":0,"LU":0.2,"RU":0},
{"c":"P4","t":-20,"LS":-0.1,"RS":0,"LU":-0.1,"RU":0},
{"c":"P4","t":0,"LS":-0.2,"RS":0,"LU":-0.2,"RU":0},
{"c":"P4","t":20,"LS":-0.1,"RS":0,"LU":-0.1,"RU":0},
{"c":"P4","t":40,"LS":-0.1,"RS":-0.1,"LU":-0.1,"RU":0},
{"c":"P4","t":60,"LS":-0.2,"RS":-0.2,"LU":-0.2,"RU":-0.2},
{"c":"P4","t":80,"LS":-0.2,"RS":-0.2,"LU":-0.2,"RU":-0.2},
{"c":"P4","t":100,"LS":0.6,"RS":0.5,"LU":0.4,"RU":0.8},
{"c":"P4","t":110,"LS":1,"RS":0.9,"LU":0.8,"RU":1.2},
{"c":"P4","t":120,"LS":0.6,"RS":0.5,"LU":0.5,"RU":0.8},
{"c":"P4","t":140,"LS":-1.2,"RS":-1.2,"LU":-1.2,"RU":-1.1},
{"c":"P4","t":155,"LS":-2.4,"RS":-2.4,"LU":-2.3,"RU":-2.4},
{"c":"P4","t":170,"LS":-2.2,"RS":-2.2,"LU":-2.2,"RU":-2.2},
{"c":"P4","t":180,"LS":-2,"RS":-2,"LU":-2,"RU":-2},
{"c":"P4","t":200,"LS":-1.8,"RS":-1.7,"LU":-1.6,"RU":-1.7},
{"c":"P4","t":220,"LS":-1.7,"RS":-1.5,"LU":-1.3,"RU":-1.5},
{"c":"P4","t":240,"LS":-1.7,"RS":-1.3,"LU":-1,"RU":-1.2},
{"c":"P4","t":260,"LS":-1.6,"RS":-1.3,"LU":-0.9,"RU":-1.2},
{"c":"P4","t":280,"LS":-1.5,"RS":-1,"LU":-0.8,"RU":-1.1},
{"c":"P4","t":300,"LS":-0.8,"RS":-0.5,"LU":-0.3,"RU":-0.6},
{"c":"P4","t":320,"LS":-0.2,"RS":0,"LU":0,"RU":-0.2},
{"c":"P4","t":340,"LS":0,"RS":0.5,"LU":0.3,"RU":0.2},
{"c":"P4","t":360,"LS":0.4,"RS":0.6,"LU":0.5,"RU":0.5},
{"c":"P4","t":380,"LS":1,"RS":0.8,"LU":0.4,"RU":0.4},
{"c":"P4","t":400,"LS":1.4,"RS":1.2,"LU":0.6,"RU":0.6},
{"c":"P4","t":420,"LS":1.7,"RS":1.5,"LU":0.7,"RU":0.7},
{"c":"P4","t":440,"LS":1.7,"RS":1.5,"LU":0.8,"RU":0.7},
{"c":"P4","t":460,"LS":1.5,"RS":1.3,"LU":0.6,"RU":0.6},
{"c":"P4","t":480,"LS":1.6,"RS":1.4,"LU":0.4,"RU":0.5},
{"c":"P4","t":500,"LS":1.6,"RS":1.1,"LU":0.4,"RU":0.5},
{"c":"P4","t":520,"LS":1.7,"RS":1.5,"LU":0.6,"RU":0.5},
{"c":"P4","t":540,"LS":1.7,"RS":1.6,"LU":0.8,"RU":0.7},
{"c":"P4","t":560,"LS":1.9,"RS":1.8,"LU":0.7,"RU":0.8},
{"c":"P4","t":580,"LS":2,"RS":2.1,"LU":0.8,"RU":0.8},
{"c":"P4","t":600,"LS":1.8,"RS":2.2,"LU":0.9,"RU":1},
{"c":"P4","t":620,"LS":2,"RS":2.2,"LU":1.1,"RU":1},
{"c":"P4","t":640,"LS":1.9,"RS":2.3,"LU":0.9,"RU":0.9},
{"c":"P4","t":660,"LS":2,"RS":2.2,"LU":0.7,"RU":0.8},
{"c":"P4","t":680,"LS":1.8,"RS":2.1,"LU":1,"RU":0.8},
{"c":"P4","t":700,"LS":1.9,"RS":2.2,"LU":1.1,"RU":0.9},
{"c":"P4","t":720,"LS":1.8,"RS":2.2,"LU":1.2,"RU":1.2},
{"c":"P4","t":740,"LS":1.8,"RS":2.2,"LU":1.2,"RU":1.3},
{"c":"P4","t":760,"LS":1.7,"RS":2.2,"LU":1.2,"RU":1.2},
{"c":"P4","t":780,"LS":1.6,"RS":1.9,"LU":1.2,"RU":1.3},
{"c":"P4","t":800,"LS":1.6,"RS":1.9,"LU":1.1,"RU":1.3}
]},
"transform": [{"fold": ["LS", "RS", "LU", "RU"], "as": ["k", "v"]}],
"facet": {"field": "c", "type": "nominal", "sort": ["F3","Fz","F4","C3","Cz","C4","P3","Pz","P4"], "header": null},
"columns": 3,
"spacing": {"row": 51, "column": 58},
"bounds": "flush",
"resolve": {"axis": {"x": "independent", "y": "independent"}},
"spec": {
"width": 547,
"height": 265,
"layer": [
{"transform": [{"filter": "datum.t == -100 && datum.k == 'LS'"}],
 "mark": {"type": "rect", "color": "#bdbdbd"},
 "encoding": {
  "x": {"datum": 500, "type": "quantitative", "scale": {"domain": [-100, 800], "nice": false, "zero": false}},
  "x2": {"datum": 700},
  "y": {"datum": -2.9, "type": "quantitative", "scale": {"domain": [-3, 5], "nice": false, "zero": false}},
  "y2": {"datum": 4.83}}},
{"transform": [{"filter": "datum.t == -100 && datum.k == 'LS'"}],
 "mark": {"type": "rule", "color": "#666666", "strokeWidth": 1.5, "strokeDash": [2, 4]},
 "encoding": {
  "x": {"datum": 0, "type": "quantitative"},
  "y": {"datum": -2.8, "type": "quantitative"},
  "y2": {"datum": 4.85}}},
{"mark": {"type": "line", "strokeWidth": 1.8, "clip": false},
 "encoding": {
  "x": {"field": "t", "type": "quantitative",
   "axis": {"title": "ms", "values": [-100,0,100,200,300,400,500,600,700,800], "tickCount": 12,
    "labelExpr": "datum.value >= 0 && datum.value <= 600 && datum.value % 200 == 0 ? datum.label : ''",
    "grid": false, "tickSize": 5, "tickWidth": 1.5, "tickColor": "#555555", "domainColor": "#555555", "domainWidth": 1.5,
    "labelFont": "Liberation Serif", "labelFontSize": 33, "labelColor": "#111111", "labelBaseline": "alphabetic", "labelPadding": 33,
    "labelFlush": false, "labelOverlap": false,
    "titleFont": "Liberation Serif", "titleFontSize": 32, "titleFontWeight": "normal", "titleColor": "#111111",
    "titleX": 546, "titleY": 38, "titleAlign": "right", "titleBaseline": "alphabetic", "titleAnchor": "end"}},
  "y": {"field": "v", "type": "quantitative",
   "axis": {"title": "μV", "values": [-3,-2,-1,0,1,2,3,4], "tickCount": 12,
    "labelExpr": "datum.value == -2 ? '-2' : datum.value == 0 ? '0' : datum.value == 2 ? '2' : ''",
    "labelFontSize": {"condition": {"test": "datum.value == -2 || datum.value == 0 || datum.value == 2", "value": 33}, "value": 2},
    "grid": false, "tickSize": 5, "tickWidth": 1.5, "tickColor": "#555555", "domainColor": "#555555", "domainWidth": 1.5,
    "labelFont": "Liberation Serif", "labelColor": "#111111", "labelPadding": 3, "labelOverlap": false, "labelFlush": false,
    "titleFont": "Liberation Serif", "titleFontSize": 30, "titleFontWeight": "normal", "titleColor": "#111111",
    "titleAngle": 0, "titleX": -5, "titleY": 19, "titleAlign": "right", "titleBaseline": "middle"}},
  "color": {"field": "k", "type": "nominal",
   "scale": {"domain": ["LS", "RS", "LU", "RU"], "range": ["#111111", "#3a62d6", "#d91f4b", "#24882c"]},
   "legend": {"orient": "none", "legendX": 269, "legendY": 959, "direction": "horizontal", "title": null,
    "symbolType": "stroke", "symbolSize": 2200, "symbolStrokeWidth": 5,
    "labelFont": "Liberation Serif", "labelFontSize": 46, "labelColor": "#111111", "labelLimit": 400,
    "labelOffset": 18, "columnPadding": 15, "padding": 0,
    "labelExpr": "datum.label == 'LS' ? 'Left Seen' : datum.label == 'RS' ? 'Right Seen' : datum.label == 'LU' ? 'Left Unseen' : 'Right Unseen'"}}}},
{"transform": [{"filter": "datum.t == -100 && datum.k == 'LS'"}],
 "mark": {"type": "text", "align": "left", "baseline": "alphabetic", "font": "Liberation Serif", "fontSize": 44, "color": "#111111"},
 "encoding": {
  "x": {"datum": 703, "type": "quantitative"},
  "y": {"datum": 3.53, "type": "quantitative"},
  "text": {"field": "c", "type": "nominal"}}}
]
}
}
